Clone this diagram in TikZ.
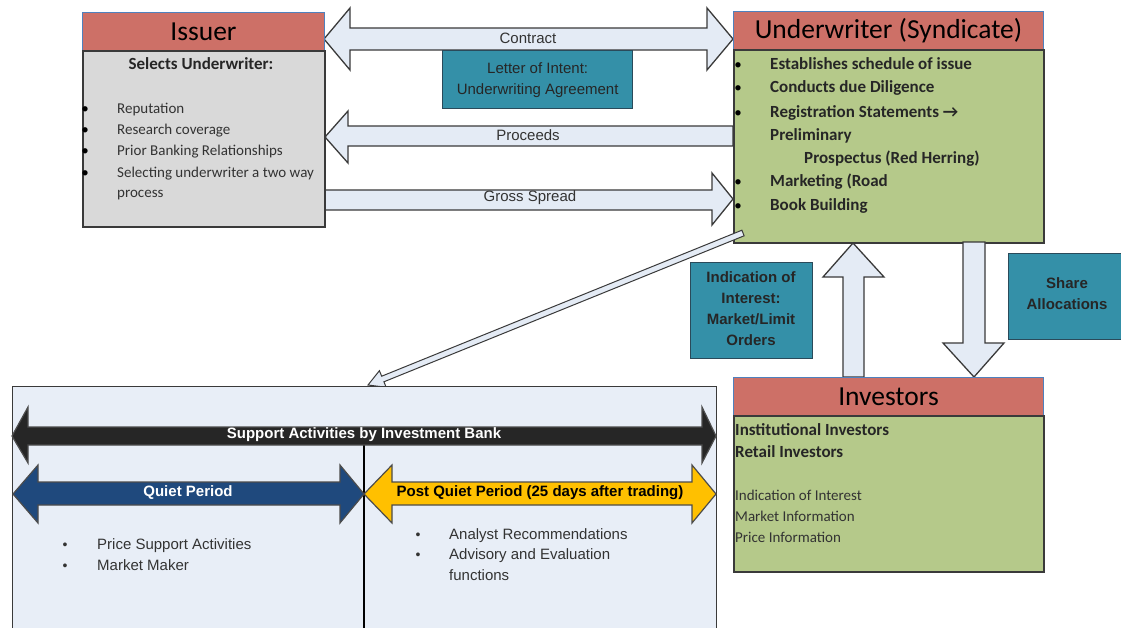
\documentclass[tikz,border=0pt]{standalone}
\usepackage{fontspec}
\setmainfont{Carlito}
\newfontfamily\arial{Liberation Sans}
\definecolor{hdrfill}{HTML}{CD7067}
\definecolor{hdrline}{HTML}{4F81BD}
\definecolor{boxline}{HTML}{3A3A3A}
\definecolor{graybody}{HTML}{D9D9D9}
\definecolor{greenbody}{HTML}{B5C98A}
\definecolor{tealfill}{HTML}{3490A8}
\definecolor{tealline}{HTML}{2A4A5A}
\definecolor{arrowfill}{HTML}{E4EBF5}
\definecolor{arrowline}{HTML}{3A3A3A}
\definecolor{panelfill}{HTML}{E8EEF7}
\definecolor{qblue}{HTML}{1F497D}
\definecolor{qyellow}{HTML}{FFC000}
\definecolor{txtgray}{HTML}{333333}
\begin{document}
\begin{tikzpicture}[x=1pt,y=-1pt,
  hdr/.style={rectangle, draw=hdrline, fill=hdrfill, line width=1pt, inner sep=0pt, anchor=north west},
  graybox/.style={rectangle, draw=boxline, fill=graybody, line width=1.5pt, inner sep=0pt, anchor=north west},
  greenbox/.style={rectangle, draw=boxline, fill=greenbody, line width=1.5pt, inner sep=0pt, anchor=north west},
  tealbox/.style={rectangle, draw=tealline, fill=tealfill, line width=1.3pt, inner sep=0pt, anchor=north west},
  panel/.style={rectangle, draw=boxline, fill=panelfill, line width=1.3pt, inner sep=0pt, anchor=north west},
  blockarrow/.style={draw=arrowline, fill=arrowfill, line width=1.3pt, line join=miter},
  hdrtext/.style={font=\fontsize{27.5}{31}\selectfont, text=black},
  boldline/.style={font=\bfseries\fontsize{17}{20}\selectfont, anchor=mid west, inner sep=0pt, text=black!85},
  regline/.style={font=\fontsize{15}{18}\selectfont, anchor=mid west, inner sep=0pt, text=black!80},
  bul/.style={font=\fontsize{15}{18}\selectfont, anchor=mid, inner sep=0pt, text=black},
  lbl/.style={font=\arial\fontsize{15}{17}\selectfont, text=txtgray, inner sep=0pt},
  teallbl/.style={font=\arial\fontsize{15}{21}\selectfont, text=black!85, align=center, inner sep=0pt},
  teallblb/.style={font=\arial\bfseries\fontsize{15}{21}\selectfont, text=black!85, align=center, inner sep=0pt},
  areg/.style={font=\arial\fontsize{15}{17}\selectfont, anchor=mid west, inner sep=0pt, text=txtgray},
  abul/.style={font=\arial\fontsize{14}{16}\selectfont, anchor=mid, inner sep=0pt, text=txtgray},
  barlbl/.style={font=\arial\bfseries\fontsize{15}{17}\selectfont, inner sep=0pt}
]
\useasboundingbox (0,0) rectangle (1121,627);
\fill[white] (0,0) rectangle (1121,627);

% ---------- block arrows between Issuer and Underwriter ----------
\draw[blockarrow] (324,39) -- (350,8) -- (350,28) -- (707,28) -- (707,8) -- (733,39)
  -- (707,70) -- (707,50) -- (350,50) -- (350,70) -- cycle;
\node[lbl] (contract) at (528,38) {Contract};

\draw[blockarrow] (733,126) -- (348,126) -- (348,111) -- (325,137) -- (348,163) -- (348,146) -- (733,146) -- cycle;
\node[lbl] (proceeds) at (528,135) {Proceeds};

\draw[blockarrow] (324,190) -- (712,190) -- (712,173) -- (733,199) -- (712,225) -- (712,210) -- (324,210) -- cycle;
\node[lbl] (gross) at (530,198) {Gross Spread};

% ---------- Issuer ----------
\node[hdr, minimum width=242pt, minimum height=38pt] (issuerHead) at (82,12) {};
\node[graybox, minimum width=242pt, minimum height=176pt] (issuerBody) at (82,50) {};
\node[hdrtext] (issuerT) at (issuerHead.center) {Issuer};
\node[font=\bfseries\fontsize{17}{20}\selectfont, text=black!85, anchor=mid] (selects) at (201,67) {Selects Underwriter:};
\foreach \yy/\tt [count=\i] in {111/Reputation,132/Research coverage,153/Prior Banking Relationships,175/Selecting underwriter a two way} {
  \node[bul] (ib\i) at (85,\yy) {•};
  \node[regline] (it\i) at (117,\yy) {\tt};
}
\node[regline] (it5) at (117,195) {process};

% ---------- Underwriter ----------
\node[hdr, minimum width=310pt, minimum height=38pt] (uwHead) at (733,11) {};
\node[greenbox, minimum width=310pt, minimum height=193pt] (uwBody) at (733,49) {};
\node[hdrtext] (uwT) at (uwHead.center) {Underwriter (Syndicate)};
\foreach \yy/\tt [count=\i] in {67/Establishes schedule of issue,90/Conducts due Diligence,115/Registration Statements →,184/Marketing (Road,208/Book Building} {
  \node[bul] (ub\i) at (738,\yy) {•};
  \node[boldline] (ut\i) at (770,\yy) {\tt};
}
\node[boldline] (ut6) at (770,138) {Preliminary};
\node[boldline] (ut7) at (804,161) {Prospectus (Red Herring)};

% ---------- Letter of intent ----------
\node[tealbox, minimum width=190pt, minimum height=58pt] (loi) at (442,50) {};
\node[teallbl] (loiT) at (loi.center) {Letter of Intent:\\Underwriting Agreement};

% ---------- diagonal arrow ----------
\draw[blockarrow, line width=1pt] (744.1,235.8) -- (383.9,381.8) -- (386.2,387.3) -- (368,385)
  -- (379.4,370.7) -- (381.7,376.2) -- (741.9,230.2) -- cycle;

% ---------- vertical arrows ----------
\draw[blockarrow] (843,377) -- (843,277) -- (823,277) -- (853,243) -- (884,277) -- (864,277) -- (864,377) -- cycle;
\draw[blockarrow] (963,242) -- (963,343) -- (943,343) -- (974,377) -- (1004,343) -- (985,343) -- (985,242) -- cycle;

\node[tealbox, minimum width=122pt, minimum height=96pt] (ioi) at (690,262) {};
\node[teallblb] (ioiT) at (751,309) {Indication of\\Interest:\\Market/Limit\\Orders};
\node[tealbox, minimum width=116pt, minimum height=86pt] (share) at (1008,253) {};
\node[teallblb] (shareT) at (1067,294) {Share\\Allocations};

% ---------- Investors ----------
\node[hdr, minimum width=310pt, minimum height=38pt] (invHead) at (733,377) {};
\node[greenbox, minimum width=310pt, minimum height=156pt] (invBody) at (733,415) {};
\node[hdrtext] (invT) at (invHead.center) {Investors};
\node[boldline] (iv1) at (735,433) {Institutional Investors};
\node[boldline] (iv2) at (735,455) {Retail Investors};
\node[regline] (iv3) at (735,498) {Indication of Interest};
\node[regline] (iv4) at (735,519) {Market Information};
\node[regline] (iv5) at (735,540) {Price Information};

% ---------- bottom panel ----------
\node[panel, minimum width=704pt, minimum height=250pt] (panelBox) at (12,386) {};
\coordinate (divTop) at (364,445);
\coordinate (divBot) at (364,630);
\draw[black, line width=2pt] (divTop) -- (divBot);

\draw[draw=black!70, fill=black!85, line width=1.2pt, line join=miter] (12,436) -- (28,407) -- (28,427) -- (702,427) -- (702,407) -- (716,436)
  -- (702,463) -- (702,445) -- (28,445) -- (28,463) -- cycle;
\node[barlbl, text=white] (supT) at (364,435) {Support Activities by Investment Bank};

\draw[draw=black!70, fill=qblue, line width=1.2pt, line join=miter] (13,494) -- (38,465) -- (38,482) -- (340,482) -- (340,465) -- (364,494)
  -- (340,523) -- (340,505) -- (38,505) -- (38,523) -- cycle;
\node[barlbl, text=white] (qT) at (188,493) {Quiet Period};

\draw[draw=black!70, fill=qyellow, line width=1.2pt, line join=miter] (364,494) -- (392,465) -- (392,482) -- (692,482) -- (692,465) -- (716,494)
  -- (692,523) -- (692,505) -- (392,505) -- (392,523) -- cycle;
\node[barlbl, text=black] (pqT) at (540,493) {Post Quiet Period (25 days after trading)};

\node[abul] (pb1) at (65,547) {•};
\node[areg] (pt1) at (97,547) {Price Support Activities};
\node[abul] (pb2) at (65,568) {•};
\node[areg] (pt2) at (97,568) {Market Maker};
\node[abul] (qb1) at (418,537) {•};
\node[areg] (qt1) at (449,537) {Analyst Recommendations};
\node[abul] (qb2) at (418,557) {•};
\node[areg] (qt2) at (449,557) {Advisory and Evaluation};
\node[areg] (qt3) at (449,578) {functions};
\end{tikzpicture}
\end{document}
